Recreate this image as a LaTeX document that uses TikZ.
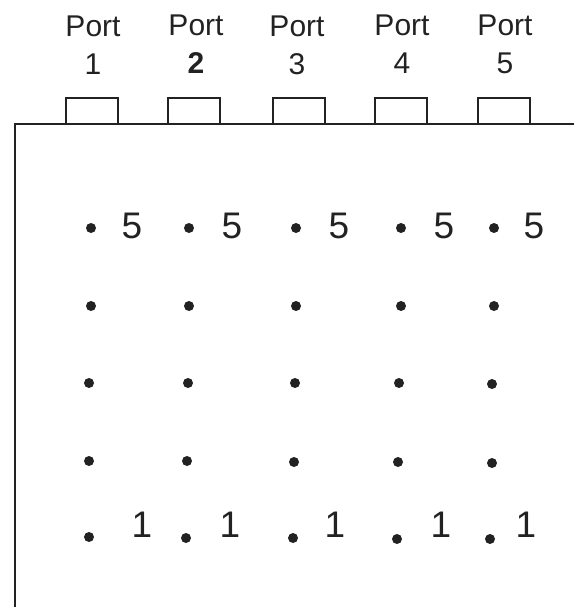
\documentclass[tikz,border=0pt]{standalone}
\usepackage{fontspec}
\setmainfont{Liberation Sans}
\usetikzlibrary{shapes,calc}

\definecolor{ink}{HTML}{222222}

\begin{document}
\begin{tikzpicture}[x=1pt,y=-1pt,
    every node/.style={text=ink},
    port/.style={draw=ink,line width=1.3pt,rectangle,minimum width=52pt,minimum height=26pt,inner sep=0pt},
    plabel/.style={align=center,inner sep=0pt,font=\fontsize{30}{38}\selectfont},
    pin/.style={circle,fill=ink,inner sep=0pt,minimum size=10pt},
    num/.style={inner sep=0pt,font=\fontsize{37}{40}\selectfont}]
  \useasboundingbox (0,0) rectangle (574,607);
  % ports on top of the case
  \node[port] (P1) at (92,111) {};
  \node[port] (P2) at ($(P1)+(102,0)$) {};
  \node[port] (P3) at ($(P1)+(207,0)$) {};
  \node[port] (P4) at ($(P1)+(309,0)$) {};
  \node[port] (P5) at ($(P1)+(412,0)$) {};
  \node[plabel] (T1) at (93,45) {Port\\1};
  \node[plabel] (T2) at (196,44) {Port\\\textbf{2}};
  \node[plabel] (T3) at (297,45) {Port\\3};
  \node[plabel] (T4) at (402,44) {Port\\4};
  \node[plabel] (T5) at (505,44) {Port\\5};
  \coordinate (C0) at (15,607);
  \coordinate (C1) at (15,124);
  \coordinate (C2) at (574,124);
  \draw[ink,line width=1.6pt] (C0) -- (C1) -- (C2);
  % pin rows
  \node[pin] (D11) at (91,228) {};
  \node[pin] (D12) at (189,228) {};
  \node[pin] (D13) at (296,228) {};
  \node[pin] (D14) at (401,228) {};
  \node[pin] (D15) at (494,228) {};
  \node[pin] (D21) at (91,306) {};
  \node[pin] (D22) at (189,306) {};
  \node[pin] (D23) at (296,306) {};
  \node[pin] (D24) at (401,306) {};
  \node[pin] (D25) at (494,306) {};
  \node[pin] (D31) at (89,383) {};
  \node[pin] (D32) at (188,383) {};
  \node[pin] (D33) at (295,383) {};
  \node[pin] (D34) at (399,383) {};
  \node[pin] (D35) at (492,384) {};
  \node[pin] (D41) at (89,461) {};
  \node[pin] (D42) at (187,461) {};
  \node[pin] (D43) at (294,462) {};
  \node[pin] (D44) at (398,462) {};
  \node[pin] (D45) at (492,463) {};
  \node[pin] (D51) at (89,537) {};
  \node[pin] (D52) at (186,538) {};
  \node[pin] (D53) at (293,538) {};
  \node[pin] (D54) at (397,539) {};
  \node[pin] (D55) at (490,539) {};
  % numbers beside first and last rows
  \node[num] (N51) at (132,226) {5};
  \node[num] (N52) at (232,226) {5};
  \node[num] (N53) at (339,226) {5};
  \node[num] (N54) at (444,226) {5};
  \node[num] (N55) at (534,226) {5};
  \node[num] (N11) at (142,525) {1};
  \node[num] (N12) at (230,525) {1};
  \node[num] (N13) at (335,525) {1};
  \node[num] (N14) at (441,525) {1};
  \node[num] (N15) at (526,525) {1};
\end{tikzpicture}
\end{document}
